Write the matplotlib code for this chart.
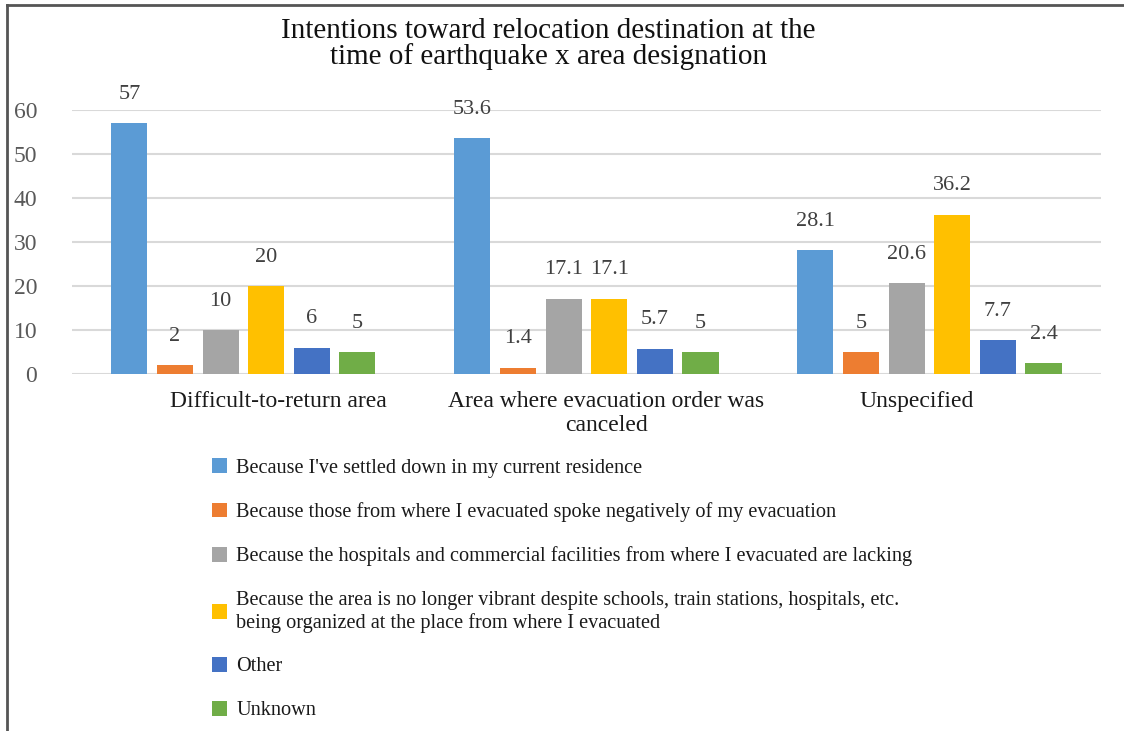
import numpy as np
import matplotlib
matplotlib.use('Agg')
import matplotlib.pyplot as plt
import matplotlib.transforms as mtransforms
from matplotlib.patches import Patch
from matplotlib.lines import Line2D

CATEGORIES = ['Difficult-to-return area',
              'Area where evacuation order was\ncanceled',
              'Unspecified']
SERIES = ["Because I've settled down in my current residence",
          'Because those from where I evacuated spoke negatively of my evacuation',
          'Because the hospitals and commercial facilities from where I evacuated are lacking',
          'Because the area is no longer vibrant despite schools, train stations, hospitals, etc.\n'
          'being organized at the place from where I evacuated',
          'Other',
          'Unknown']
VALUES = [
    [57, 53.6, 28.1],
    [2, 1.4, 5],
    [10, 17.1, 20.6],
    [20, 17.1, 36.2],
    [6, 5.7, 7.7],
    [5, 5, 2.4],
]
LABELS = [
    ['57', '53.6', '28.1'],
    ['2', '1.4', '5'],
    ['10', '17.1', '20.6'],
    ['20', '17.1', '36.2'],
    ['6', '5.7', '7.7'],
    ['5', '5', '2.4'],
]
COLORS = ['#5B9BD5', '#ED7D31', '#A5A5A5', '#FFC000', '#4472C4', '#70AD47']
YTICKS = [0, 10, 20, 30, 40, 50, 60]

SERIF = 'Liberation Serif'
TXT = '#404040'

fig = plt.figure(figsize=(11.24, 7.31), dpi=100)
ax = fig.add_axes([0.064, 0.4884, 0.9155, 0.3611])

x = np.arange(len(CATEGORIES))
step = 0.133
width = 0.105
for i, (vals, labs, col) in enumerate(zip(VALUES, LABELS, COLORS)):
    pos = x + (i - 2.5) * step
    ax.bar(pos, vals, width=width, color=col, zorder=3)
    for px, v, lab in zip(pos, vals, labs):
        ax.annotate(lab, (px, v), xytext=(0, 14), textcoords='offset points',
                    ha='center', va='bottom', fontsize=16, color=TXT,
                    family=SERIF, annotation_clip=False)

ax.set_xlim(-0.5, 2.5)
ax.set_ylim(0, 60)
ax.set_yticks(YTICKS)
ax.set_yticklabels([str(t) for t in YTICKS], family=SERIF, fontsize=17, color='#595959')
ax.tick_params(axis='y', length=0, pad=25)
ax.set_xticks(x)
ax.set_xticklabels(CATEGORIES, family=SERIF, fontsize=17, color='#1a1a1a', linespacing=1.2)
ax.tick_params(axis='x', length=0, pad=12)
# category labels sit a bit off the group centres in the original
for lbl, dx in zip(ax.get_xticklabels(), [35, 20, -13]):
    lbl.set_transform(lbl.get_transform() + mtransforms.ScaledTranslation(dx / 100, 0, fig.dpi_scale_trans))
ax.grid(axis='y', color='#D9D9D9', linewidth=1.5, zorder=0)
for s in ax.spines.values():
    s.set_visible(False)

fig.text(0.488, 0.976, 'Intentions toward relocation destination at the\ntime of earthquake x area designation',
         ha='center', va='top', fontsize=21, family=SERIF, color='#111111', linespacing=0.98)

handles = [Patch(facecolor=c, edgecolor='none') for c in COLORS]
leg = fig.legend(handles, SERIES, loc='upper left', bbox_to_anchor=(0.1886, 0.373),
                 frameon=False, prop={'family': SERIF, 'size': 14.6}, labelspacing=1.2,
                 handlelength=0.75, handleheight=0.75, handletextpad=0.45,
                 borderpad=0, borderaxespad=0)
for t in leg.get_texts():
    t.set_color('#1a1a1a')

# outer frame (left and top edges visible)
fig.add_artist(Line2D([0.0058, 0.0058], [0, 0.9935], transform=fig.transFigure,
                      color='#555555', linewidth=2))
fig.add_artist(Line2D([0.0058, 1.0], [0.9935, 0.9935], transform=fig.transFigure,
                      color='#555555', linewidth=2))

fig.savefig('out.png', dpi=100)
